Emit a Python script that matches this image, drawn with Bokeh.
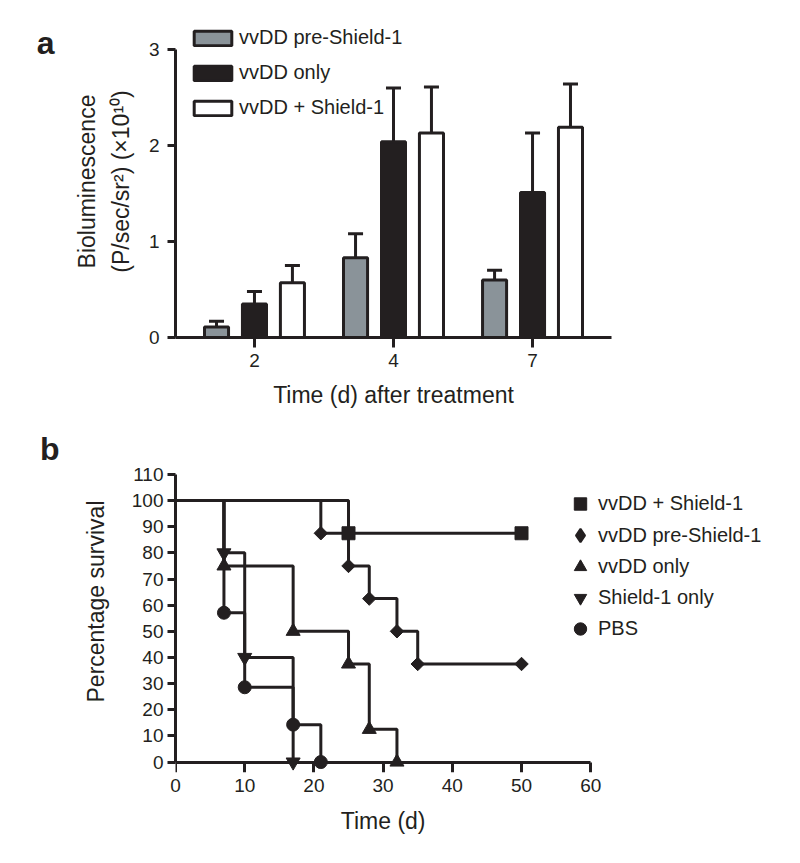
import math
from bokeh.plotting import figure
from bokeh.models import (ColumnDataSource, FactorRange, Range1d, Legend, LegendItem,
                          LinearAxis, FixedTicker)
from bokeh.transform import dodge
from bokeh.layouts import column
from bokeh.embed import file_html
from bokeh.resources import INLINE

INK = "#231f20"
GRAY = "#8a9399"
FONT = "Liberation Sans"

# ---------------- panel a data ----------------
days = ["2", "4", "7"]
pre_shield_mean = [0.11, 0.83, 0.60]
pre_shield_err = [0.06, 0.25, 0.10]
vvdd_only_mean = [0.35, 2.04, 1.51]
vvdd_only_err = [0.13, 0.56, 0.62]
vvdd_shield_mean = [0.57, 2.13, 2.19]
vvdd_shield_err = [0.18, 0.48, 0.45]
y_ticks_a = [0, 1, 2, 3]

# ---------------- panel b data ----------------
sq_t = [0, 25, 50]
sq_s = [100, 87.5, 87.5]
dia_t = [0, 21, 25, 28, 32, 35, 50]
dia_s = [100, 87.5, 75, 62.5, 50, 37.5, 37.5]
tri_t = [0, 7, 17, 25, 28, 32]
tri_s = [100, 75, 50, 37.5, 12.5, 0]
inv_t = [0, 7, 10, 17]
inv_s = [100, 80, 40, 0]
pbs_t = [0, 7, 10, 17, 21]
pbs_s = [100, 57.1, 28.6, 14.3, 0]
x_ticks_b = [0, 10, 20, 30, 40, 50, 60]
y_ticks_b = [0, 10, 20, 30, 40, 50, 60, 70, 80, 90, 100, 110]


def style_axis(ax, tick_out, label_standoff, title_standoff=0):
    ax.axis_line_width = 3
    ax.axis_line_color = INK
    ax.major_tick_line_width = 3
    ax.major_tick_line_color = INK
    ax.major_tick_out = tick_out
    ax.major_tick_in = 0
    ax.minor_tick_line_color = None
    ax.major_label_text_font = FONT
    ax.major_label_text_font_size = "19px"
    ax.major_label_text_color = INK
    ax.major_label_standoff = label_standoff
    ax.axis_label_text_font = FONT
    ax.axis_label_text_font_size = "23px"
    ax.axis_label_text_font_style = "normal"
    ax.axis_label_text_color = INK
    ax.axis_label_standoff = title_standoff


def text_axis(pos, text, size, bold, standoff):
    """An axis with no rule and no ticks that only carries one piece of text."""
    ax = LinearAxis(ticker=FixedTicker(ticks=[pos]), major_label_overrides={pos: text})
    style_axis(ax, 0, standoff)
    ax.axis_line_color = None
    ax.major_tick_line_color = None
    ax.major_label_text_font_size = size
    ax.major_label_text_font_style = "bold" if bold else "normal"
    return ax


# ================= panel a =================
pa = figure(x_range=FactorRange(factors=days, range_padding=0.068, range_padding_units="absolute"),
            y_range=Range1d(0, 3.25), frame_width=436, frame_height=312,
            min_border_left=175, min_border_right=181, min_border_top=25, min_border_bottom=91,
            output_backend="svg", toolbar_location=None, tools="")
pa.xgrid.visible = False
pa.ygrid.visible = False
pa.outline_line_color = None

series_a = [
    ("vvDD pre-Shield-1", pre_shield_mean, pre_shield_err, GRAY, -0.273),
    ("vvDD only", vvdd_only_mean, vvdd_only_err, INK, 0.0),
    ("vvDD + Shield-1", vvdd_shield_mean, vvdd_shield_err, "white", 0.273),
]
items_a = []
for name, mean, err, fill, off in series_a:
    src = ColumnDataSource(dict(day=days, mean=mean, top=[m + e for m, e in zip(mean, err)]))
    pa.segment(x0=dodge("day", off, range=pa.x_range), y0="mean",
               x1=dodge("day", off, range=pa.x_range), y1="top",
               source=src, line_color=INK, line_width=3)
    pa.segment(x0=dodge("day", off - 0.054, range=pa.x_range), y0="top",
               x1=dodge("day", off + 0.054, range=pa.x_range), y1="top",
               source=src, line_color=INK, line_width=3)
    r = pa.vbar(x=dodge("day", off, range=pa.x_range), top="mean", width=0.173, source=src,
                fill_color=fill, line_color=INK, line_width=3)
    items_a.append(LegendItem(label=name, renderers=[r]))

style_axis(pa.xaxis[0], 10, 6, 12)
style_axis(pa.yaxis[0], 8, 8, 12)
pa.xaxis.axis_label = "Time (d) after treatment"
pa.yaxis.axis_label = "Bioluminescence\n(P/sec/sr²) (×10¹⁰)"
pa.yaxis.axis_label_text_line_height = 1.3
pa.yaxis.ticker = FixedTicker(ticks=y_ticks_a)
pa.yaxis.bounds = (0, 3)
pa.add_layout(text_axis(3.07, "a", "32px", True, 17), "left")

leg_a = Legend(items=items_a, location=(14, 218), glyph_width=47, glyph_height=18,
               label_standoff=3, spacing=12, padding=0, margin=0, label_height=18,
               label_text_font=FONT, label_text_font_size="20px", label_text_color=INK,
               background_fill_alpha=0, border_line_alpha=0)
pa.add_layout(leg_a, "center")

# ================= panel b =================
pb = figure(x_range=Range1d(0, 88), y_range=Range1d(-4, 126.8), frame_width=609, frame_height=342,
            min_border_left=175, min_border_right=8, min_border_top=2, min_border_bottom=91,
            output_backend="svg", toolbar_location=None, tools="")
pb.xgrid.visible = False
pb.ygrid.visible = False
pb.outline_line_color = None

# tick numbers of the x axis (carried by an axis at the frame bottom, no rule)
xlab = pb.xaxis[0]
style_axis(xlab, 0, 6)
xlab.axis_line_color = None
xlab.major_tick_line_color = None
xlab.ticker = FixedTicker(ticks=x_ticks_b)
# x axis title, centred on the 0-60 part of the axis
xt = text_axis(30, "Time (d)", "23px", False, 13)
pb.add_layout(xt, "below")
# rule + ticks at y = 0
xrule = LinearAxis(fixed_location=0, bounds=(0, 60), ticker=FixedTicker(ticks=x_ticks_b))
style_axis(xrule, 10, 0)
xrule.major_label_text_alpha = 0
xrule.major_label_text_font_size = "1px"
pb.add_layout(xrule, "below")

style_axis(pb.yaxis[0], 8, 4, 20)
pb.yaxis.ticker = FixedTicker(ticks=y_ticks_b)
pb.yaxis.bounds = (0, 110)
pb.yaxis.axis_label = "Percentage survival"
pb.add_layout(text_axis(121.6, "b", "32px", True, 20), "left")

series_b = [
    ("vvDD + Shield-1", sq_t, sq_s, "square", 13, 0.0),
    ("vvDD pre-Shield-1", dia_t, dia_s, "square", 9.5, math.pi / 4),
    ("vvDD only", tri_t, tri_s, "triangle", 14, 0.0),
    ("Shield-1 only", inv_t, inv_s, "inverted_triangle", 14, 0.0),
    ("PBS", pbs_t, pbs_s, "circle", 13, 0.0),
]
marker_renderers = []
for name, t, s, marker, size, angle in series_b:
    pb.step(x=t, y=s, mode="after", line_color=INK, line_width=3)
for name, t, s, marker, size, angle in series_b:
    r = pb.scatter(x=t[1:], y=s[1:], marker=marker, size=size, angle=angle,
                   fill_color=INK, line_color=INK, line_width=1)
    marker_renderers.append((name, r))

# legend swatch for the diamond series (legend swatches ignore the marker angle);
# it has no drawable point of its own
nan = float("nan")
dia_swatch = pb.scatter(x=[nan], y=[nan], marker="diamond", fill_color=INK, line_color=INK,
                        line_width=2)

common = dict(padding=0, margin=0, label_height=18, spacing=0,
              label_text_font=FONT, label_text_font_size="20px", label_text_color=INK,
              background_fill_alpha=0, border_line_alpha=0)
leg_b1 = Legend(items=[LegendItem(label=marker_renderers[0][0], renderers=[marker_renderers[0][1]])],
                location=(389, 253), glyph_width=32, glyph_height=31, label_standoff=2, **common)
leg_b2 = Legend(items=[LegendItem(label=marker_renderers[1][0], renderers=[dia_swatch])],
                location=(388, 220), glyph_width=34, glyph_height=34, label_standoff=1, **common)
leg_b3 = Legend(items=[LegendItem(label=n, renderers=[r]) for n, r in marker_renderers[2:]],
                location=(389, 128), glyph_width=32, glyph_height=31, label_standoff=2, **common)
for lg in (leg_b1, leg_b2, leg_b3):
    pb.add_layout(lg, "center")

layout = column(pa, pb, spacing=0)
open("out.html", "w").write(file_html(layout, INLINE))
